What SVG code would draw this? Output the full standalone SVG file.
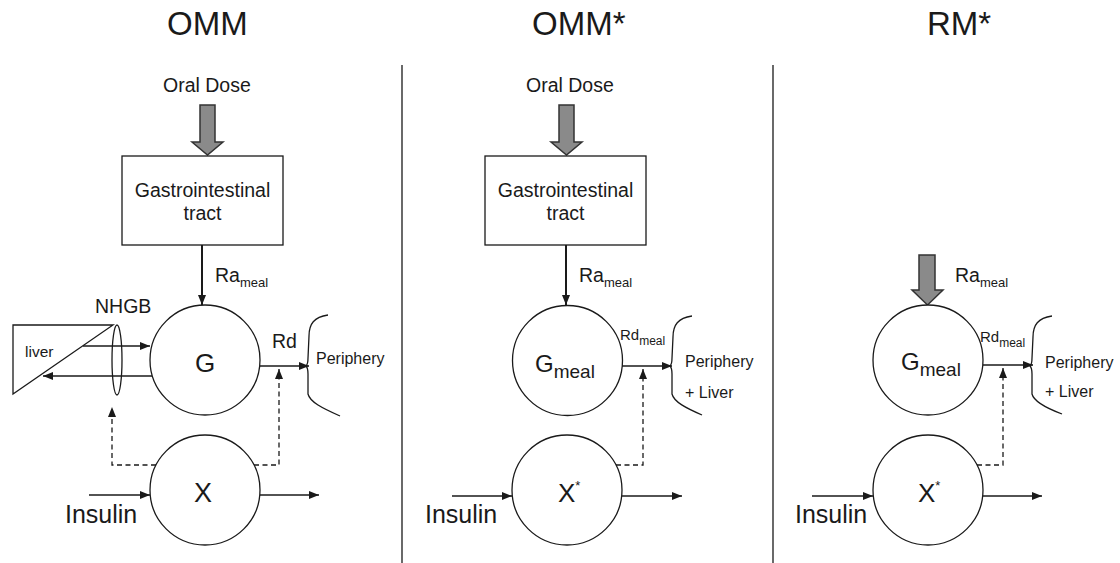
<svg xmlns="http://www.w3.org/2000/svg" width="1120" height="563" viewBox="0 0 1120 563">
<style>
text{font-family:"Liberation Sans",Arial,sans-serif;fill:#1a1a1a}
.title{font-size:33px}
.lbl{font-size:19.5px}
.sm{font-size:16px}
.node{fill:#fff;stroke:#1a1a1a;stroke-width:1.3}
.ln{fill:none;stroke:#1a1a1a;stroke-width:1.3}
.thick{fill:none;stroke:#1a1a1a;stroke-width:2}
.dash{fill:none;stroke:#1a1a1a;stroke-width:1.3;stroke-dasharray:5,3.5}
.block{fill:#8a8a8a;stroke:#333;stroke-width:1.5}
</style>
<defs>
<marker id="ah" viewBox="0 0 10 8" refX="10" refY="4" markerWidth="10" markerHeight="8" markerUnits="userSpaceOnUse" orient="auto">
<path d="M0,0 L10,4 L0,8 Z" fill="#1a1a1a"/>
</marker>
</defs>

<g id="titles">
<text class="title" x="167" y="35">OMM</text>
<text class="title" x="532" y="35">OMM*</text>
<text class="title" x="927" y="35">RM*</text>
</g>
<g id="dividers">
<line x1="402" y1="65" x2="402" y2="563" stroke="#1a1a1a" stroke-width="1.3"/>
<line x1="773" y1="65" x2="773" y2="563" stroke="#1a1a1a" stroke-width="1.3"/>
</g>

<!-- Left panel -->
<g id="oral-dose-1">
<text class="lbl" x="163" y="92">Oral Dose</text>
<path class="block" d="M200,105 H215 V142 H223 L207.5,155 L192,142 H200 Z"/>
</g>
<g id="gi-1">
<rect class="node" x="122" y="156" width="161" height="89"/>
<text class="lbl" x="202.5" y="197" text-anchor="middle">Gastrointestinal</text>
<text class="lbl" x="202.5" y="220" text-anchor="middle">tract</text>
</g>
<g id="g-1">
<circle class="node" cx="205" cy="360" r="55"/>
<text x="205" y="372" font-size="26" text-anchor="middle">G</text>
</g>
<g id="x-1">
<circle class="node" cx="205" cy="490" r="55"/>
<text x="203" y="502" font-size="27" text-anchor="middle">X</text>
</g>
<g id="liver">
<path class="ln" d="M13,325 H113 L13,394 Z"/>
<text x="25" y="357" font-size="15.5">liver</text>
</g>
<g id="nhgb">
<ellipse class="ln" cx="117" cy="360" rx="5" ry="35"/>
<text class="lbl" x="95" y="313">NHGB</text>
</g>
<g id="periphery-1">
<path class="ln" d="M328,315 C314,317 309,324 309,336 L308,358 Q308,364 306,366 Q308,368 308,374 L308,394 C310,402 322,408 340,416"/>
<text class="sm" x="316" y="364">Periphery</text>
</g>
<g id="labels-1">
<text class="lbl" x="215" y="282">Ra<tspan font-size="13" dy="5">meal</tspan></text>
<text class="lbl" x="272" y="348">Rd</text>
<text x="65" y="523" font-size="25">Insulin</text>
</g>

<!-- Middle panel -->
<g id="oral-dose-2">
<text class="lbl" x="526" y="92">Oral Dose</text>
<path class="block" d="M559,105 H574 V142 H582 L566.5,155 L551,142 H559 Z"/>
</g>
<g id="gi-2">
<rect class="node" x="485" y="156" width="161" height="89"/>
<text class="lbl" x="565.5" y="197" text-anchor="middle">Gastrointestinal</text>
<text class="lbl" x="565.5" y="220" text-anchor="middle">tract</text>
</g>
<g id="gmeal-2">
<circle class="node" cx="567.5" cy="360.5" r="55"/>
<text x="535" y="372" font-size="24">G<tspan font-size="19" dy="6">meal</tspan></text>
</g>
<g id="xstar-2">
<circle class="node" cx="567" cy="490" r="55"/>
<text x="558" y="502" font-size="26">X<tspan font-size="13" dy="-12">*</tspan></text>
</g>
<g id="periphery-2">
<path class="ln" d="M692,316 C678,318 673,325 673,337 L672,358 Q672,364 670,366 Q672,368 672,374 L672,394 C674,402 686,408 702,415"/>
<text class="sm" x="685" y="367">Periphery</text>
<text class="sm" x="685" y="398">+ Liver</text>
</g>
<g id="labels-2">
<text class="lbl" x="579" y="282">Ra<tspan font-size="13" dy="5">meal</tspan></text>
<text x="620" y="340" font-size="15">Rd<tspan font-size="12" dy="5">meal</tspan></text>
<text x="425" y="523" font-size="25">Insulin</text>
</g>

<!-- Right panel -->
<g id="ra-3">
<path class="block" d="M919,255 H935 V290 H943 L927.5,305 L912,290 H919 Z"/>
<text class="lbl" x="955" y="282">Ra<tspan font-size="13" dy="5">meal</tspan></text>
</g>
<g id="gmeal-3">
<circle class="node" cx="928" cy="360" r="55"/>
<text x="901" y="370" font-size="24">G<tspan font-size="19" dy="6">meal</tspan></text>
</g>
<g id="xstar-3">
<circle class="node" cx="928" cy="490" r="55"/>
<text x="918" y="502" font-size="26">X<tspan font-size="13" dy="-12">*</tspan></text>
</g>
<g id="periphery-3">
<path class="ln" d="M1052,316 C1038,318 1033,325 1033,337 L1032,358 Q1032,364 1030,366 Q1032,368 1032,374 L1032,394 C1034,402 1046,408 1062,414"/>
<text class="sm" x="1045" y="368">Periphery</text>
<text class="sm" x="1045" y="397">+ Liver</text>
</g>
<g id="labels-3">
<text x="980" y="342" font-size="15">Rd<tspan font-size="12" dy="5">meal</tspan></text>
<text x="795" y="523" font-size="25">Insulin</text>
</g>

<g id="connectors">
<!-- left -->
<line class="thick" x1="202" y1="245" x2="202" y2="305" marker-end="url(#ah)"/>
<line class="ln" x1="260" y1="366" x2="309" y2="366" marker-end="url(#ah)"/>
<line class="ln" x1="83" y1="346" x2="150" y2="346" marker-end="url(#ah)"/>
<line class="ln" x1="152" y1="376" x2="43" y2="376" marker-end="url(#ah)"/>
<line class="ln" x1="89" y1="495" x2="150" y2="495" marker-end="url(#ah)"/>
<line class="ln" x1="260" y1="495" x2="319" y2="495" marker-end="url(#ah)"/>
<path class="dash" d="M254,465 H279 V369" marker-end="url(#ah)"/>
<path class="dash" d="M156,465 H112 V407" marker-end="url(#ah)"/>
<!-- middle -->
<line class="thick" x1="566" y1="245" x2="566" y2="305" marker-end="url(#ah)"/>
<line class="ln" x1="622" y1="366" x2="672" y2="366" marker-end="url(#ah)"/>
<line class="ln" x1="452" y1="496" x2="512" y2="496" marker-end="url(#ah)"/>
<line class="ln" x1="622" y1="496" x2="682" y2="496" marker-end="url(#ah)"/>
<path class="dash" d="M616,465 H643 V369" marker-end="url(#ah)"/>
<!-- right -->
<line class="ln" x1="983" y1="365" x2="1033" y2="365" marker-end="url(#ah)"/>
<line class="ln" x1="812" y1="496" x2="873" y2="496" marker-end="url(#ah)"/>
<line class="ln" x1="983" y1="496" x2="1042" y2="496" marker-end="url(#ah)"/>
<path class="dash" d="M977,465 H1003 V368" marker-end="url(#ah)"/>
</g>
</svg>
